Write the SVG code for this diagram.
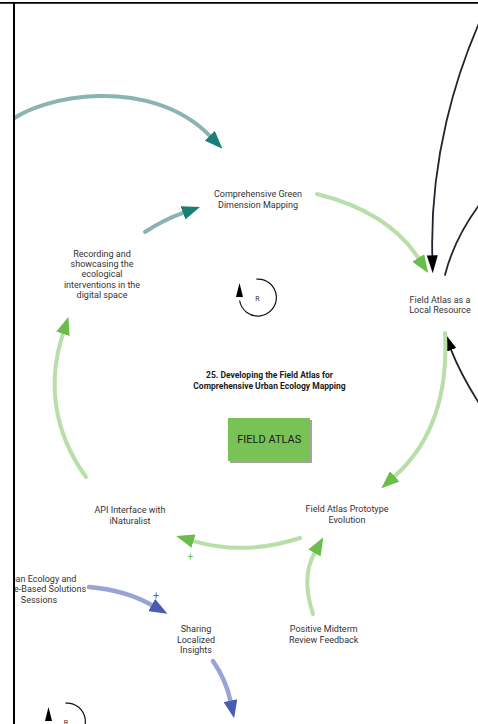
<svg xmlns="http://www.w3.org/2000/svg" width="478" height="724" viewBox="0 0 478 724">
  <style>
    .lbl { font-family: Roboto, "Liberation Sans", sans-serif; font-size: 9px; fill: #333333; text-anchor: middle; }
    .ttl { font-family: Roboto, "Liberation Sans", sans-serif; font-size: 8.5px; font-weight: bold; fill: #1a1a1a; text-anchor: middle; }
    .box { font-family: Roboto, "Liberation Sans", sans-serif; font-size: 11px; fill: #1a1a1a; text-anchor: middle; }
    .rl { font-family: Roboto, "Liberation Sans", sans-serif; font-size: 7px; fill: #333333; text-anchor: middle; }
    .c { fill: none; stroke-linecap: round; }
    .green { stroke: #b8dfa9; stroke-width: 4; marker-end: url(#ah-green); }
    .teal { stroke: #8ab4b2; stroke-width: 4; marker-end: url(#ah-teal); }
    .blue { stroke: #9aa3d6; stroke-width: 4.5; marker-end: url(#ah-blue); }
    .dark { stroke: #23232f; stroke-width: 1.8; }
    .darka { marker-end: url(#ah-dark); }
    .loop { fill: none; stroke: #111111; stroke-width: 1.2; }
    .sign-g { font-family: Roboto, "Liberation Sans", sans-serif; font-size: 10px; fill: #6bbd4b; text-anchor: middle; }
    .sign-b { font-family: Roboto, "Liberation Sans", sans-serif; font-size: 10px; fill: #485cb0; text-anchor: middle; }
  </style>
  <defs>
    <marker id="ah-green" markerUnits="userSpaceOnUse" viewBox="0 0 18 14" markerWidth="18" markerHeight="14" refX="0" refY="7" orient="auto">
      <path d="M0,0 L18,7 L0,14 z" fill="#6bbd4b"/>
    </marker>
    <marker id="ah-teal" markerUnits="userSpaceOnUse" viewBox="0 0 18 14" markerWidth="18" markerHeight="14" refX="0" refY="7" orient="auto">
      <path d="M0,0 L18,7 L0,14 z" fill="#188078"/>
    </marker>
    <marker id="ah-blue" markerUnits="userSpaceOnUse" viewBox="0 0 18 14" markerWidth="18" markerHeight="14" refX="0" refY="7" orient="auto">
      <path d="M0,0 L18,7 L0,14 z" fill="#485cb0"/>
    </marker>
    <marker id="ah-dark" markerUnits="userSpaceOnUse" viewBox="0 0 18 12" markerWidth="18" markerHeight="12" refX="0" refY="6" orient="auto">
      <path d="M0,0.5 L18,6 L0,11.5 z" fill="#000000"/>
    </marker>
    <clipPath id="frame">
      <rect x="15" y="3.5" width="470" height="725"/>
    </clipPath>
    <filter id="shadow" x="-10%" y="-10%" width="130%" height="130%">
      <feDropShadow dx="2" dy="2" stdDeviation="0.6" flood-color="#999999" flood-opacity="0.9"/>
    </filter>
  </defs>

  <rect width="478" height="724" fill="#ffffff"/>

  <g clip-path="url(#frame)">
    <!-- connectors -->
    <g id="connectors">
      <path class="c teal" d="M8,123 C40,95 150,75 209.8,135.8"/>
      <path class="c teal" d="M145,232 Q164,219.6 183,212.9"/>
      <path class="c green" d="M317,194 Q388.3,211.8 418.3,257.9"/>
      <path class="c dark darka" d="M484,12 C455,75 430,160 432.3,255.3"/>
      <path class="c dark" d="M445,275 Q455,235 486,196"/>
      <path class="c dark darka" d="M486,414 Q462,378 451.1,349.9"/>
      <path class="c green" d="M445,333 C448,390 435,440 394.7,476.3"/>
      <path class="c green" d="M300,538 Q245,556 193.5,541.1"/>
      <path class="c green" d="M86,477 C52,430 48,380 62.9,333.9"/>
      <path class="c blue" d="M89,587 Q125,590 151.7,605"/>
      <path class="c blue" d="M213,661 Q226,680 230.4,700.6"/>
      <path class="c green" d="M313,614 C305,590 305,570 314.5,553"/>
      <text class="sign-g" x="190.3" y="560">+</text>
      <text class="sign-b" x="156" y="598.8">+</text>
    </g>

    <!-- nodes -->
    <g id="node-green-dimension">
      <text class="lbl" x="258" y="197">Comprehensive Green</text>
      <text class="lbl" x="258" y="207.5">Dimension Mapping</text>
    </g>
    <g id="node-local-resource">
      <text class="lbl" x="440" y="302.8">Field Atlas as a</text>
      <text class="lbl" x="440" y="313.3">Local Resource</text>
    </g>
    <g id="node-recording">
      <text class="lbl" x="102" y="256.5">Recording and</text>
      <text class="lbl" x="102" y="266.9">showcasing the</text>
      <text class="lbl" x="102" y="277.3">ecological</text>
      <text class="lbl" x="102" y="287.7">interventions in the</text>
      <text class="lbl" x="102" y="298.1">digital space</text>
    </g>
    <g id="node-prototype">
      <text class="lbl" x="347" y="512.2">Field Atlas Prototype</text>
      <text class="lbl" x="347" y="522.5">Evolution</text>
    </g>
    <g id="node-api">
      <text class="lbl" x="130" y="513.2">API Interface with</text>
      <text class="lbl" x="130" y="523.5">iNaturalist</text>
    </g>
    <g id="node-sessions">
      <text class="lbl" x="39" y="581.5">Urban Ecology and</text>
      <text class="lbl" x="39" y="592.2">Nature-Based Solutions</text>
      <text class="lbl" x="39" y="603">Sessions</text>
    </g>
    <g id="node-sharing">
      <text class="lbl" x="196" y="632.2">Sharing</text>
      <text class="lbl" x="196" y="642.6">Localized</text>
      <text class="lbl" x="196" y="653">Insights</text>
    </g>
    <g id="node-midterm">
      <text class="lbl" x="323.7" y="632.2">Positive Midterm</text>
      <text class="lbl" x="323.7" y="642.7">Review Feedback</text>
    </g>

    <!-- loop title and badge -->
    <g id="loop-title">
      <text class="ttl" x="269.5" y="378.3">25. Developing the Field Atlas for</text>
      <text class="ttl" x="269.5" y="389">Comprehensive Urban Ecology Mapping</text>
    </g>
    <g id="node-field-atlas">
      <rect x="228" y="418" width="82" height="43" fill="#78c257" filter="url(#shadow)"/>
      <text class="box" x="269.2" y="443.3">FIELD ATLAS</text>
    </g>

    <!-- reinforcing loop markers -->
    <g id="loop-r-main">
      <path class="loop" d="M256.4,279.1 A18.5,18.5 0 1 1 239.6,300.5"/>
      <path d="M236,297 L243,297 L239.5,283 z" fill="#000000"/>
      <text class="rl" x="257.5" y="300.5">R</text>
    </g>
    <g id="loop-r-lower">
      <path class="loop" d="M65.4,703.1 A18.5,18.5 0 1 1 48.6,724.5"/>
      <path d="M45,721 L52,721 L48.5,707 z" fill="#000000"/>
      <text class="rl" x="66" y="724.5">R</text>
    </g>
  </g>

  <!-- frame -->
  <g id="frame-lines">
    <line x1="0" y1="2.8" x2="478" y2="2.8" stroke="#000000" stroke-width="1.8"/>
    <line x1="14" y1="2" x2="14" y2="724" stroke="#000000" stroke-width="2"/>
  </g>
</svg>
